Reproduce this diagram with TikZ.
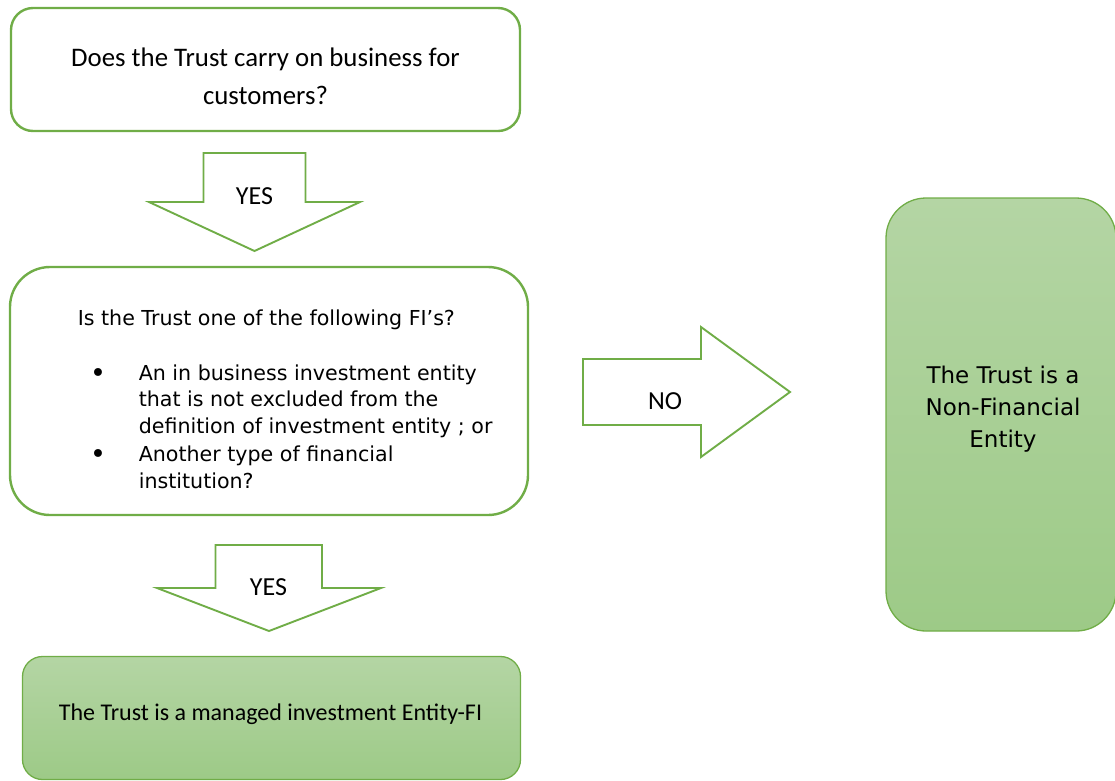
\documentclass[tikz,border=0pt]{standalone}
\usepackage{fontspec}
\setmainfont{Carlito}
\newfontfamily\bodyfont{DejaVu Sans}
\definecolor{leaf}{HTML}{70AD47}
\definecolor{fillTop}{HTML}{B4D5A4}
\definecolor{fillBot}{HTML}{9DCA87}
\begin{document}
\begin{tikzpicture}[x=1pt,y=-1pt,
  question/.style={draw=leaf, line width=2.4pt, fill=white, inner sep=0pt},
  outcome/.style={draw=leaf, line width=1.3pt, top color=fillTop, bottom color=fillBot, inner sep=0pt},
  blockarrow/.style={draw=leaf, line width=1.9pt, fill=white, line join=miter},
  lbl/.style={inner sep=0pt, anchor=base},
  lblw/.style={inner sep=0pt, anchor=base west},
  cal/.style={font=\fontsize{26.8}{30}\selectfont},
  arrowtext/.style={font=\fontsize{26}{30}\selectfont},
  listtext/.style={font=\bodyfont\fontsize{20.6}{26}\selectfont},
  bulletmark/.style={font=\bodyfont\fontsize{27}{30}\selectfont},
  sidetext/.style={font=\bodyfont\fontsize{23}{28}\selectfont}]
\useasboundingbox (0,0) rectangle (1115,780);

% first question
\node[question, rounded corners=22pt, minimum width=509pt, minimum height=123pt] (ask1) at (265.5,69.5) {};
\node[lbl, cal] (ask1a) at (265.5,66) {Does the Trust carry on business for};
\node[lbl, cal] (ask1b) at (265.5,104) {customers?};

% YES arrow below the first question
\draw[blockarrow] (203.5,153) -- (305.5,153) -- (305.5,202) -- (360,202) -- (254.5,251)
  -- (149,202) -- (203.5,202) -- cycle;
\node[lbl, arrowtext] (yes1) at (254.5,204) {YES};

% second question
\node[question, rounded corners=40pt, minimum width=518pt, minimum height=248pt] (ask2) at (269,391) {};
\node[lblw, listtext] (ask2a) at (77.6,325) {Is the Trust one of the following FI’s?};
\node[lbl, bulletmark] (dot1) at (98,382) {•};
\node[lblw, listtext] (item1a) at (138.6,380) {An in business investment entity};
\node[lblw, listtext] (item1b) at (138.6,406) {that is not excluded from the};
\node[lblw, listtext] (item1c) at (138.6,433) {definition of investment entity ; or};
\node[lbl, bulletmark] (dot2) at (98,463) {•};
\node[lblw, listtext] (item2a) at (138.6,461) {Another type of financial};
\node[lblw, listtext] (item2b) at (138.6,488) {institution?};

% YES arrow below the second question
\draw[blockarrow] (215.5,545) -- (322,545) -- (322,588) -- (381,588) -- (269,631)
  -- (157,588) -- (215.5,588) -- cycle;
\node[lbl, arrowtext] (yes2) at (268.5,595) {YES};

% NO arrow to the right
\draw[blockarrow] (583,359) -- (701,359) -- (701,327) -- (790,392) -- (701,457)
  -- (701,425) -- (583,425) -- cycle;
\node[lbl, arrowtext] (no) at (665,409) {NO};

% outcomes
\node[outcome, rounded corners=20pt, minimum width=498pt, minimum height=123pt] (mief) at (271.5,718) {};
\node[lbl, font=\fontsize{24}{28}\selectfont] (miefText) at (270.5,720) {The Trust is a managed investment Entity-FI};

\node[outcome, rounded corners=40pt, minimum width=230pt, minimum height=433pt] (nfe) at (1001,414.5) {};
\node[lbl, sidetext] (nfeA) at (1003,383) {The Trust is a};
\node[lbl, sidetext] (nfeB) at (1003,415) {Non-Financial};
\node[lbl, sidetext] (nfeC) at (1003,447) {Entity};
\end{tikzpicture}
\end{document}
